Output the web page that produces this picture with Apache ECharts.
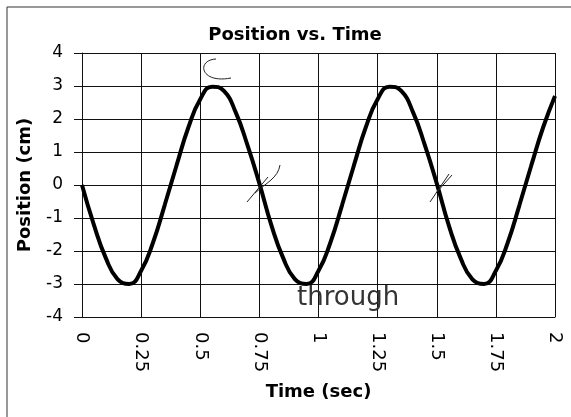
<!DOCTYPE html>
<html>
<head>
<meta charset="utf-8">
<script src="https://cdn.jsdelivr.net/npm/echarts@6/dist/echarts.min.js"></script>
<style>
html,body{margin:0;padding:0;background:#fff;}
#chart{width:571px;height:417px;}
</style>
</head>
<body>
<div id="chart"></div>
<script>
// Data
var times = [0, 0.05, 0.1, 0.15, 0.2, 0.25, 0.3, 0.35, 0.4, 0.45, 0.5, 0.55, 0.6, 0.65, 0.7, 0.75,
  0.8, 0.85, 0.9, 0.95, 1.0, 1.05, 1.1, 1.15, 1.2, 1.25, 1.3, 1.35, 1.4, 1.45, 1.5,
  1.55, 1.6, 1.65, 1.7, 1.75, 1.8, 1.85, 1.9, 1.95, 2.0];
var positions = [0, -1.2, -2.2, -2.85, -3.0, -2.6, -1.75, -0.6, 0.6, 1.75, 2.6, 2.98, 2.85, 2.2, 1.2, 0.05,
  -1.2, -2.2, -2.85, -3.0, -2.6, -1.75, -0.6, 0.6, 1.75, 2.6, 2.98, 2.85, 2.2, 1.2, 0.05,
  -1.2, -2.2, -2.85, -3.0, -2.6, -1.75, -0.6, 0.6, 1.75, 2.7];
var titleText = 'Position vs. Time';
var xName = 'Time (sec)';
var yName = 'Position (cm)';
var annotationText = 'through';

var seriesData = times.map(function (t, i) { return [t, positions[i]]; });

var chart = echarts.init(document.getElementById('chart'), null, {renderer: 'canvas'});
var ink = '#111';
chart.setOption({
  backgroundColor: '#fff',
  animation: false,
  title: {
    text: titleText,
    left: 290,
    top: 21,
    textAlign: 'center',
    textStyle: {fontFamily: 'DejaVu Sans', fontWeight: 'bold', fontSize: 18, color: '#000'}
  },
  grid: {left: 82, right: 16, top: 53, bottom: 100, containLabel: false},
  xAxis: {
    type: 'value', min: 0, max: 2, interval: 0.25,
    name: xName, nameLocation: 'middle', nameGap: 66,
    nameTextStyle: {fontFamily: 'DejaVu Sans', fontWeight: 'bold', fontSize: 18, color: '#000'},
    axisLine: {show: true, onZero: false, lineStyle: {color: ink, width: 1}},
    axisTick: {show: false},
    axisLabel: {rotate: -90, margin: 15, fontFamily: 'DejaVu Sans', fontSize: 18, color: '#000'},
    splitLine: {show: true, lineStyle: {color: ink, width: 1}}
  },
  yAxis: {
    type: 'value', min: -4, max: 4, interval: 1,
    name: yName, nameLocation: 'middle', nameGap: 48, nameRotate: 90,
    nameTextStyle: {fontFamily: 'DejaVu Sans', fontWeight: 'bold', fontSize: 18, color: '#000'},
    axisLine: {show: true, onZero: false, lineStyle: {color: ink, width: 1}},
    axisTick: {show: true, inside: false, length: 8, lineStyle: {color: ink, width: 1}},
    axisLabel: {margin: 19, fontFamily: 'DejaVu Sans', fontSize: 17, color: '#000'},
    splitLine: {show: true, lineStyle: {color: ink, width: 1}}
  },
  series: [{
    type: 'line',
    data: seriesData,
    smooth: true,
    symbol: 'none',
    lineStyle: {color: '#000', width: 4},
    z: 5
  }],
  graphic: [
    {type: 'polyline', shape: {points: [[7, 417], [7, 7], [571, 7]]}, style: {stroke: '#333', lineWidth: 1, fill: null}, silent: true},
    {type: 'bezierCurve', shape: {x1: 216, y1: 59, cpx1: 196, cpy1: 60, cpx2: 200, cpy2: 84, x2: 231, y2: 78}, style: {stroke: '#222', lineWidth: 1, fill: null}, z: 10},
    {type: 'line', shape: {x1: 247, y1: 202, x2: 268, y2: 177}, style: {stroke: '#222', lineWidth: 1}, z: 10},
    {type: 'bezierCurve', shape: {x1: 255, y1: 193, cpx1: 266, cpy1: 183, cpx2: 278, cpy2: 178, x2: 280, y2: 165}, style: {stroke: '#222', lineWidth: 1, fill: null}, z: 10},
    {type: 'line', shape: {x1: 430, y1: 202, x2: 449, y2: 174}, style: {stroke: '#222', lineWidth: 1}, z: 10},
    {type: 'line', shape: {x1: 436, y1: 193, x2: 452, y2: 175}, style: {stroke: '#222', lineWidth: 1}, z: 10},
    {type: 'text', left: 297, top: 285, z: 10,
      style: {text: annotationText, fontFamily: 'DejaVu Sans', fontSize: 26, fontWeight: 'normal', fill: '#333'}}
  ]
});
</script>
</body>
</html>
